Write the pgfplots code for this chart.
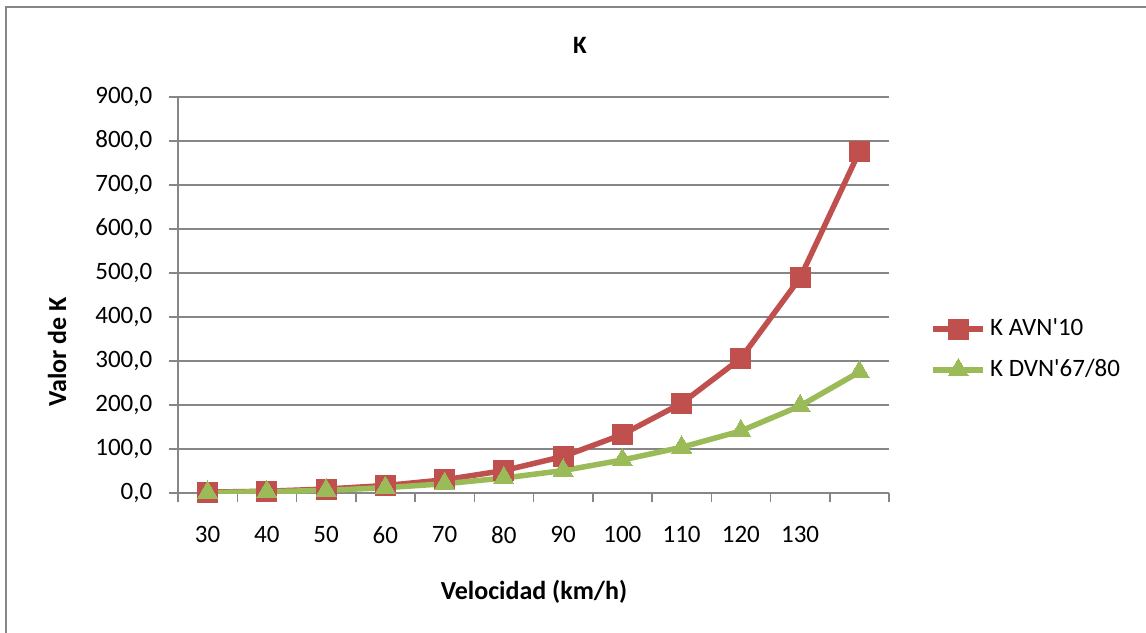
\documentclass[border=0pt]{standalone}
\usepackage{pgfplots}
\pgfplotsset{compat=1.18}
\usepackage{fontspec}
\setmainfont{Carlito}[Ligatures=TeXOff]
\definecolor{cred}{HTML}{C0504D}
\definecolor{cgreen}{HTML}{9BBB59}
\definecolor{cgrid}{HTML}{868686}
\begin{document}
\fontsize{12.5}{15}\selectfont
\begin{tikzpicture}
\useasboundingbox (0,0) rectangle (573pt,316pt);
\clip (0,0) rectangle (573pt,316pt);
\draw[cgrid, line width=1pt] (2.75pt,-20pt) -- (2.75pt,312.5pt) -- (600pt,312.5pt);
\begin{axis}[
  at={(89pt,69.5pt)}, anchor=south west,
  scale only axis, width=355.5pt, height=198pt,
  xmin=0.5, xmax=12.5, ymin=0, ymax=900,
  ytick={0,100,...,900},
  xtick={1,...,11},
  xticklabels={30,40,50,60,70,80,90,100,110,120,130},
  major x tick style={draw=none},
  minor xtick={0.5,1.5,...,12.5},
  tick align=outside,
  major tick length=4.5pt, minor tick length=4.5pt,
  tick style={cgrid, line width=0.75pt},
  axis x line*=bottom, axis y line*=left,
  axis line style={cgrid, line width=0.75pt},
  ymajorgrids, grid style={cgrid, line width=0.75pt},
  separate axis lines,
  y axis line style={-}, x axis line style={-},
  /pgf/number format/.cd, fixed, fixed zerofill, precision=1, use comma, assume math mode=true,
  /pgfplots/.cd,
  yticklabel style={xshift=-4pt},
  xticklabel style={yshift=-8pt},
  tick label style={font=\fontsize{12.5}{15}\selectfont},
  legend style={at={(1.058,0.362)}, anchor=west, draw=none, fill=none,
    font=\fontsize{12.5}{15}\selectfont, row sep=6pt, inner sep=0pt,
    /tikz/every even column/.append style={column sep=2pt}},
  legend cell align=left,
  legend image code/.code={
    \draw[#1, mark=none] (0pt,0pt) -- (25pt,0pt);
    \draw[#1, only marks] plot coordinates {(12.5pt,0pt)};
  },
]
\addplot[cred, line width=2.75pt, mark=square*, mark size=5pt, mark options={solid, line width=0pt}]
  coordinates {(1,2) (2,4) (3,9) (4,17) (5,30) (6,51) (7,83) (8,133) (9,204) (10,306) (11,489) (12,776)};
\addlegendentry{K AVN'10}
\addplot[cgreen, line width=2.75pt, mark=triangle*, mark size=5.8pt, mark options={solid, line width=0pt}]
  coordinates {(1,1) (2,3) (3,6) (4,12) (5,21) (6,34) (7,51) (8,75) (9,104) (10,141) (11,198) (12,275)};
\addlegendentry{K DVN'67/80}
\end{axis}
\node[font=\fontsize{12.5}{15}\selectfont\bfseries] at (290pt,293.5pt) {K};
\node[font=\fontsize{13}{15}\selectfont\bfseries] at (267pt,20pt) {Velocidad (km/h)};
\node[font=\fontsize{13}{15}\selectfont\bfseries, rotate=90] at (28.5pt,140pt) {Valor de K};
\end{tikzpicture}
\end{document}
